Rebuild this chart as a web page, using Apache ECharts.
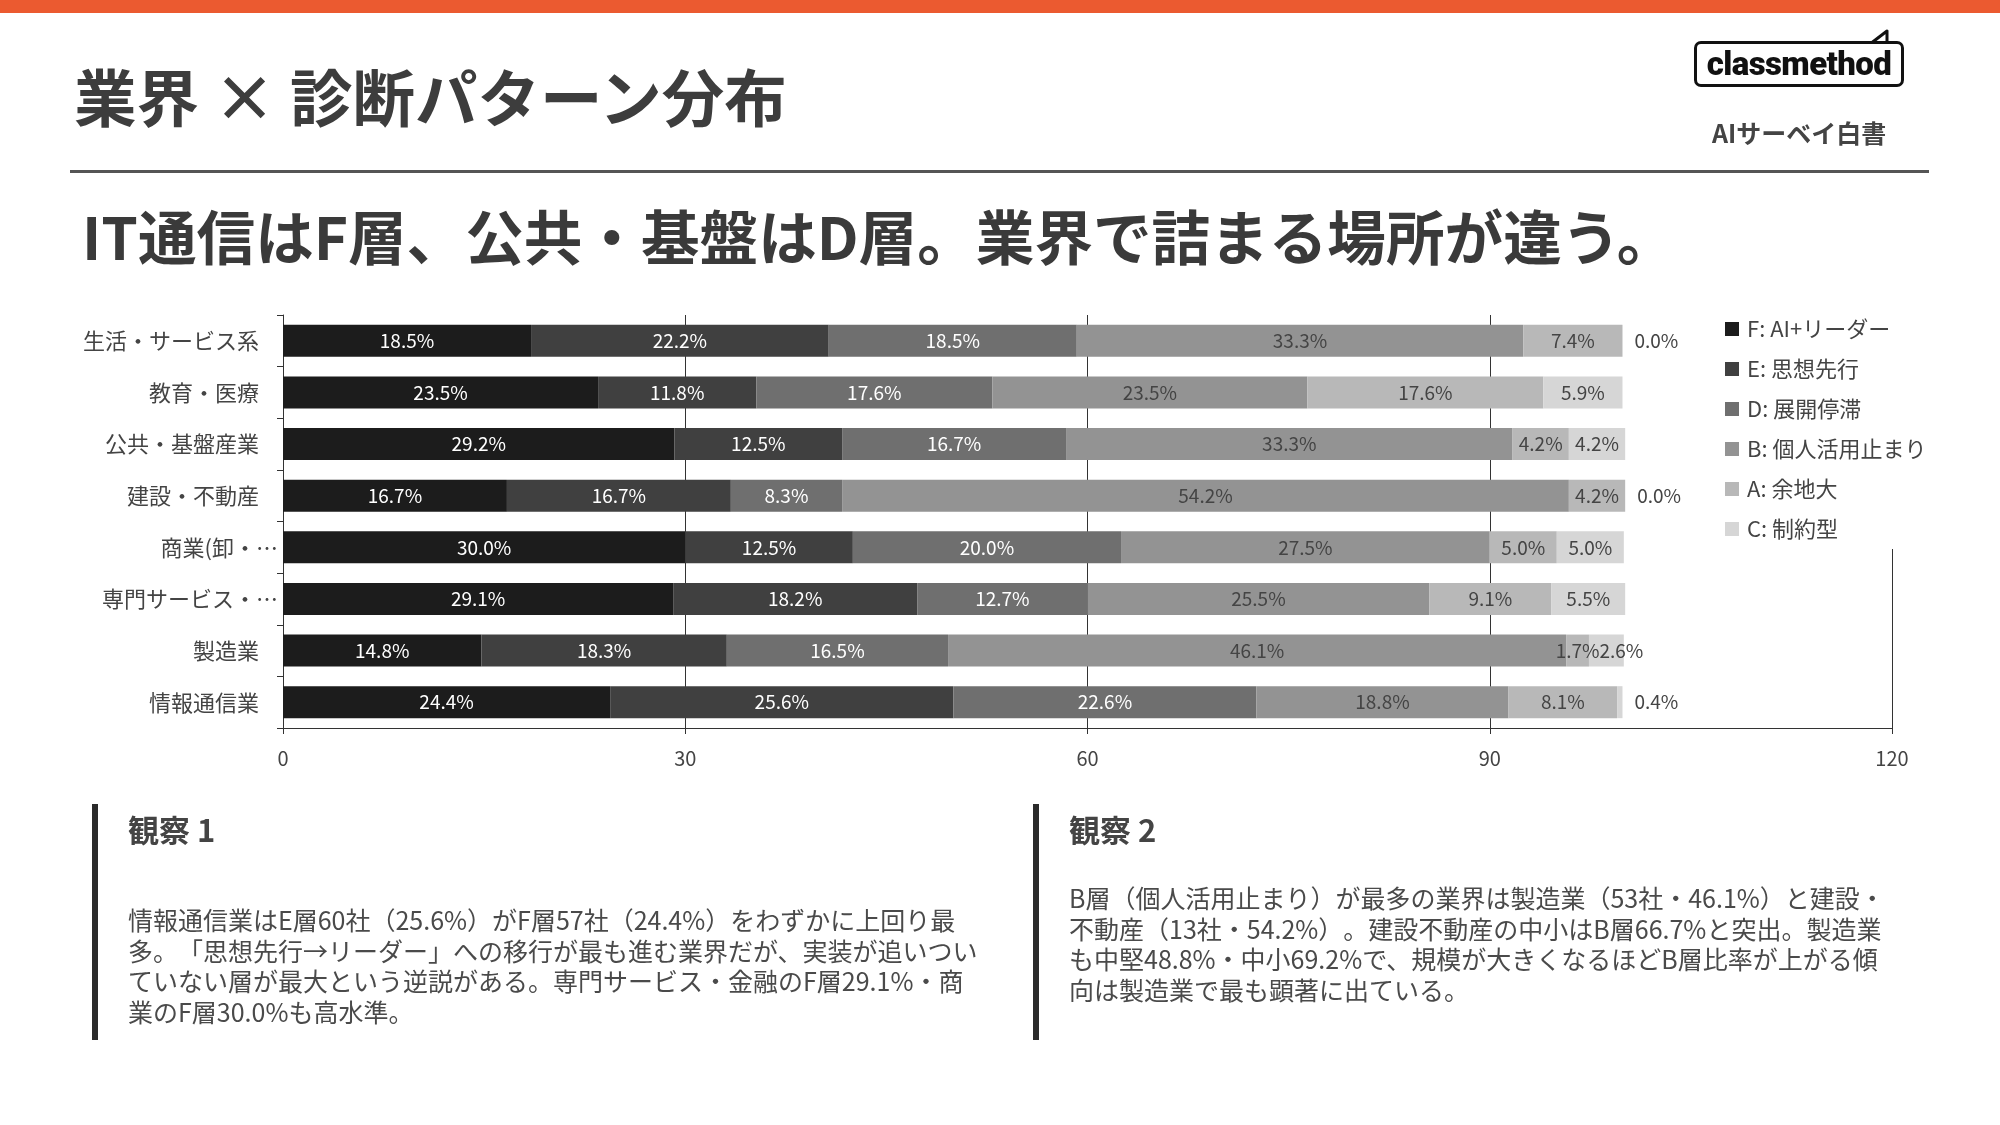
<!DOCTYPE html>
<html><head><meta charset="utf-8">
<script src="https://cdn.jsdelivr.net/npm/echarts@6/dist/echarts.min.js"></script>
<style>
html,body{margin:0;padding:0;background:#fff;}
#page{position:relative;width:2000px;height:1125px;overflow:hidden;font-family:'Noto Sans CJK JP','Noto Sans',sans-serif;text-spacing-trim:space-all;}
#chart{position:absolute;left:0;top:0;width:2000px;height:1125px;}
.abs{position:absolute;white-space:nowrap;text-spacing-trim:space-all;}
.body{font-size:25px;line-height:30.6px;color:#4a4a4a;font-weight:400;}
.head{font-size:31px;line-height:31px;color:#444;font-weight:700;}
</style></head>
<body><div id="page">
<div id="chart"></div>
<div class="abs" style="left:0;top:0;width:2000px;height:13px;background:#EB5A30"></div>
<div class="abs" style="left:74px;top:64px;font-size:62.5px;line-height:62.5px;font-weight:700;color:#3d3d3d">業界 × 診断パターン分布</div>
<div class="abs" style="left:70px;top:170px;width:1859px;height:3px;background:#555"></div>
<div class="abs" style="left:1694px;top:41px;width:204px;height:40px;border:3px solid #111;border-radius:7px;font-family:Roboto,'Noto Sans',sans-serif;font-weight:900;font-size:33px;line-height:40px;text-align:center;color:#111;letter-spacing:-0.6px">classmethod</div>
<svg class="abs" style="left:0;top:0" width="2000" height="100"><polygon points="1872,42.5 1887,31 1887,42.5" fill="#fff" stroke="#111" stroke-width="3" stroke-linejoin="round"/></svg>
<div class="abs" style="left:1712px;top:120px;font-size:25px;line-height:25px;font-weight:700;color:#444">AIサーベイ白書</div>
<div class="abs" style="left:82px;top:206px;font-size:58.6px;line-height:58.6px;font-weight:700;color:#3a3a3a">IT通信はF層、公共・基盤はD層。業界で詰まる場所が違う。</div>

<div class="abs" style="left:92px;top:804px;width:6px;height:236px;background:#2b2b2b"></div>
<div class="abs head" style="left:128px;top:813px">観察 1</div>
<div class="abs body" style="left:128px;top:904px">情報通信業はE層60社（25.6%）がF層57社（24.4%）をわずかに上回り最<br>多。「思想先行→リーダー」への移行が最も進む業界だが、実装が追いつい<br>ていない層が最大という逆説がある。専門サービス・金融のF層29.1%・商<br>業のF層30.0%も高水準。</div>

<div class="abs" style="left:1033px;top:804px;width:6px;height:236px;background:#2b2b2b"></div>
<div class="abs head" style="left:1069px;top:813px">観察 2</div>
<div class="abs body" style="left:1069px;top:882px">B層（個人活用止まり）が最多の業界は製造業（53社・46.1%）と建設・<br>不動産（13社・54.2%）。建設不動産の中小はB層66.7%と突出。製造業<br>も中堅48.8%・中小69.2%で、規模が大きくなるほどB層比率が上がる傾<br>向は製造業で最も顕著に出ている。</div>
</div>
<script>
const categories = ['生活・サービス系','教育・医療','公共・基盤産業','建設・不動産','商業(卸・…','専門サービス・…','製造業','情報通信業'];
const seriesNames = ['F: AI+リーダー','E: 思想先行','D: 展開停滞','B: 個人活用止まり','A: 余地大','C: 制約型'];
const valuesF = [18.5,23.5,29.2,16.7,30.0,29.1,14.8,24.4];
const valuesE = [22.2,11.8,12.5,16.7,12.5,18.2,18.3,25.6];
const valuesD = [18.5,17.6,16.7,8.3,20.0,12.7,16.5,22.6];
const valuesB = [33.3,23.5,33.3,54.2,27.5,25.5,46.1,18.8];
const valuesA = [7.4,17.6,4.2,4.2,5.0,9.1,1.7,8.1];
const valuesC = [0.0,5.9,4.2,0.0,5.0,5.5,2.6,0.4];
const xTicks = {min:0,max:120,interval:30};

const FONT = "'Noto Sans CJK JP','Noto Sans',sans-serif";
const colors = ['#1c1c1c','#404040','#6f6f6f','#939393','#b8b8b8','#d6d6d6'];
const labelColors = ['#fff','#fff','#fff','#444','#444','#444'];
const allValues = [valuesF,valuesE,valuesD,valuesB,valuesA,valuesC];

const series = allValues.map((vals, si) => ({
  name: seriesNames[si],
  type: 'bar',
  stack: 'total',
  barWidth: 32,
  itemStyle: {color: colors[si]},
  label: {show:true, position:'inside', fontSize:19, color:labelColors[si], fontFamily:FONT,
    formatter: p => Number(p.value).toFixed(1) + '%'},
  data: vals.map(v => {
    if (si === allValues.length - 1 && v < 1) return {value:v, label:{position:'right', distance:12, color:'#444'}};
    if (si === allValues.length - 1 && v < 3) return {value:v, label:{offset:[15,0]}};
    return v;
  })
}));

const chart = echarts.init(document.getElementById('chart'));
chart.setOption({
  animation:false,
  textStyle:{fontFamily:FONT},
  grid:{left:283, top:315, width:1609, height:413, containLabel:false},
  legend:{orient:'vertical', left:1715, top:309, padding:[9,10,9,10], itemWidth:14, itemHeight:14, itemGap:18,
    icon:'rect', backgroundColor:'#fff', data:seriesNames,
    textStyle:{fontSize:22, color:'#444', fontFamily:FONT, padding:[0,0,0,3]}},
  xAxis:{type:'value', min:xTicks.min, max:xTicks.max, interval:xTicks.interval,
    axisLine:{show:true, lineStyle:{color:'#333'}},
    axisTick:{show:true, length:6, lineStyle:{color:'#333'}},
    axisLabel:{fontSize:20, color:'#444', margin:20, fontFamily:FONT},
    splitLine:{show:true, lineStyle:{color:'#333', width:1}}},
  yAxis:{type:'category', data:categories, inverse:true,
    axisLine:{show:true, lineStyle:{color:'#333'}},
    axisTick:{show:true, length:6, lineStyle:{color:'#333'}},
    axisLabel:{margin:5, fontFamily:FONT,
      formatter: v => v.endsWith('…') ? '{t|' + v + '}' : '{n|' + v + '}',
      rich:{n:{fontSize:22, color:'#444', padding:[0,19,0,0], fontFamily:FONT}, t:{fontSize:22, color:'#444', fontFamily:FONT}}}},
  series: series
});
</script>
</body></html>
